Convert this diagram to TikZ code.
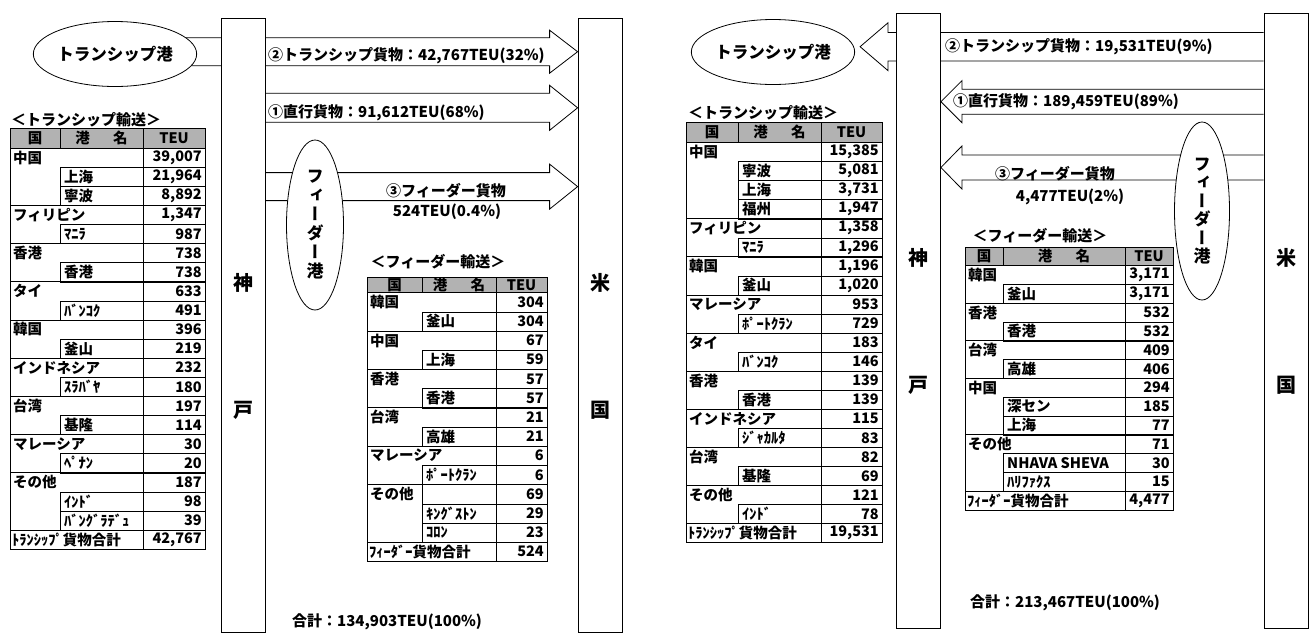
\documentclass[tikz,border=0pt]{standalone}
\usepackage{fontspec}
\setmainfont{Noto Sans CJK JP}
\newfontfamily\vjp{Noto Sans CJK JP}[RawFeature=+vert]
\usetikzlibrary{shapes.geometric,calc,backgrounds}

\tikzset{
  bar/.style = {draw, thick, fill=white, minimum width=44pt, inner sep=0pt},
  port/.style = {draw, thick, ellipse, fill=white, inner sep=0pt, font=\fontsize{16.5}{18}\selectfont\bfseries},
  flow/.style = {draw, thick, fill=white},
  side/.style = {font=\fontsize{20}{22}\selectfont\bfseries},
  lbl/.style = {inner sep=0pt, font=\fontsize{15}{17}\selectfont\bfseries},
  ttl/.style = {inner sep=0pt, font=\fontsize{15}{16}\selectfont\bfseries},
  cell/.style = {inner sep=0pt, font=\fontsize{14.5}{15}\selectfont\bfseries},
  headfill/.style = {fill=black!30},
}

% block arrow: tail node, tip node, centre y, shaft half, head half, head offset
\newcommand{\blockarrow}[6]{%
  \draw[flow] (#1 |- 0,#3-#4) -- ($(#2 |- 0,#3-#4)+(#6,0)$)
    -- ($(#2 |- 0,#3-#5)+(#6,0)$) -- (#2 |- 0,#3)
    -- ($(#2 |- 0,#3+#5)+(#6,0)$) -- ($(#2 |- 0,#3+#4)+(#6,0)$)
    -- (#1 |- 0,#3+#4);}

% table: name, rows, country rows, port rows, total text, total value
\newcommand{\teutable}[6]{%
  \fill[headfill] (0,0) rectangle (\cw,\hh);
  \node[cell] (#1-h1) at ({\ca/2},{\hh/2}) {国};
  \node[cell] (#1-h2) at ({(\ca+\cb)/2},{\hh/2}) {港\hspace{1.6em}名};
  \node[cell] (#1-h3) at ({(\cb+\cw)/2},{\hh/2}) {TEU};
  \draw (\ca,0) -- (\ca,\hh) (0,\hh) -- (\cw,\hh);
  \draw (\cb,0) -- (\cb,{\hh+#2*\rh});
  \foreach \i/\nm/\val in {#3} {
    \draw[thick] (0,{\hh+(\i-1)*\rh}) -- (\cw,{\hh+(\i-1)*\rh});
    \draw (\cb,{\hh+\i*\rh}) -- (\cw,{\hh+\i*\rh});
    \node[cell, anchor=west] (#1-n\i) at (3,{\hh+(\i-0.5)*\rh}) {\nm};
    \node[cell, anchor=east] (#1-v\i) at ({\cw-3},{\hh+(\i-0.5)*\rh}) {\val};
  }
  \foreach \i/\nm/\val in {#4} {
    \draw (\ca,{\hh+(\i-1)*\rh}) rectangle (\cw,{\hh+\i*\rh});
    \node[cell, anchor=west] (#1-n\i) at ({\ca+4},{\hh+(\i-0.5)*\rh}) {\nm};
    \node[cell, anchor=east] (#1-v\i) at ({\cw-3},{\hh+(\i-0.5)*\rh}) {\val};
  }
  \draw[thick] (0,{\hh+(#2-1)*\rh}) -- (\cw,{\hh+(#2-1)*\rh});
  \node[cell, anchor=west] (#1-n#2) at (2,{\hh+(#2-0.5)*\rh}) {#5};
  \node[cell, anchor=east] (#1-v#2) at ({\cw-3},{\hh+(#2-0.5)*\rh}) {#6};
  \draw[thick] (0,0) rectangle (\cw,{\hh+#2*\rh});
}

\begin{document}
\begin{tikzpicture}[x=1pt, y=-1pt]
\useasboundingbox (0,0) rectangle (1316,633);

% ---------------- left: export ----------------
\node[bar, minimum height=614pt] (kobeL) at (243,325) {};
\node[bar, minimum height=614pt] (usL) at (600,325) {};
\node[side] (kobeL-1) at (243,283) {神};
\node[side] (kobeL-2) at (243,410) {戸};
\node[side] (usL-1) at (600,283) {米};
\node[side] (usL-2) at (600,410) {国};

\node[port, minimum width=124pt, minimum height=65pt] (tsL) at (115,54) {トランシップ港};
\node[port, minimum width=57pt, minimum height=170pt, align=center,
  font=\vjp\fontsize{17}{19}\selectfont\bfseries] (fdL) at (315,225) {フ\\ィ\\ー\\ダ\\ー\\港};

\begin{scope}[on background layer]
  \blockarrow{tsL.center}{usL.west}{51.7}{14}{21.5}{-28}
  \blockarrow{kobeL.east}{usL.west}{107.8}{14.5}{22.5}{-28}
  \blockarrow{kobeL.east}{usL.west}{186.6}{14}{22.5}{-28}
\end{scope}

\node[lbl, anchor=west] (lblL2) at (268,56) {②トランシップ貨物：42,767TEU(32\%)};
\node[lbl, anchor=west] (lblL1) at (268,113) {①直行貨物：91,612TEU(68\%)};
\node[lbl] (lblL3) at (446,191) {③フィーダー貨物};
\node[lbl] (lblL3b) at (447,212) {524TEU(0.4\%)};
\node[lbl, anchor=west] (sumL) at (292,622) {合計：134,903TEU(100\%)};

\node[ttl] (ltT) at (86,120) {＜トランシップ輸送＞};
\begin{scope}[shift={(10,128)}]
  \def\cw{195}\def\ca{50}\def\cb{133}\def\hh{20}\def\rh{19.1}
  \teutable{lt}{21}
    {1/中国/{39,007}, 4/フィリピン/{1,347}, 6/香港/738, 8/タイ/633, 10/韓国/396,
     12/インドネシア/232, 14/台湾/197, 16/マレーシア/30, 18/その他/187}
    {2/上海/{21,964}, 3/寧波/{8,892}, 5/ﾏﾆﾗ/987, 7/香港/738, 9/ﾊﾞﾝｺｸ/491, 11/釜山/219,
     13/ｽﾗﾊﾞﾔ/180, 15/基隆/114, 17/ﾍﾟﾅﾝ/20, 19/ｲﾝﾄﾞ/98, 20/ﾊﾞﾝｸﾞﾗﾃﾞｭ/39}
    {ﾄﾗﾝｼｯﾌﾟ貨物合計}{42,767}
\end{scope}

\node[ttl] (lfT) at (438,262) {＜フィーダー輸送＞};
\begin{scope}[shift={(367,277)}]
  \def\cw{180}\def\ca{55}\def\cb{129}\def\hh{15.5}\def\rh{19.2}
  \teutable{lf}{14}
    {1/韓国/304, 3/中国/67, 5/香港/57, 7/台湾/21, 9/マレーシア/6, 11/その他/69}
    {2/釜山/304, 4/上海/59, 6/香港/57, 8/高雄/21, 10/ﾎﾟｰﾄｸﾗﾝ/6, 12/ｷﾝｸﾞｽﾄﾝ/29, 13/ｺﾛﾝ/23}
    {ﾌｨｰﾀﾞｰ貨物合計}{524}
  \draw (\ca,{\hh+10*\rh}) rectangle (\cb,{\hh+11*\rh});
\end{scope}

% ---------------- right: import ----------------
\node[bar, minimum height=615pt] (kobeR) at (918.5,320.5) {};
\node[bar, minimum height=615pt] (usR) at (1286,320.5) {};
\node[side] (kobeR-1) at (918.5,258) {神};
\node[side] (kobeR-2) at (918.5,385) {戸};
\node[side] (usR-1) at (1286,258) {米};
\node[side] (usR-2) at (1286,385) {国};

\node[port, minimum width=123pt, minimum height=65pt] (tsR) at (773,52) {トランシップ港};
\coordinate (tsR-tip) at ([xshift=5pt]tsR.east);
\node[port, minimum width=55pt, minimum height=178pt, align=center,
  font=\vjp\fontsize{17}{18.5}\selectfont\bfseries] (fdR) at (1202,211) {フ\\ィ\\ー\\ダ\\ー\\港};

\begin{scope}[on background layer]
  \blockarrow{usR.west}{tsR-tip}{46.7}{14.3}{24}{28}
  \blockarrow{usR.west}{kobeR.east}{101.7}{12.5}{21}{21}
  \blockarrow{usR.west}{kobeR.east}{167.5}{12.5}{21.5}{21}
\end{scope}

\node[lbl, anchor=west] (lblR2) at (945,47) {②トランシップ貨物：19,531TEU(9\%)};
\node[lbl, anchor=west] (lblR1) at (953,102) {①直行貨物：189,459TEU(89\%)};
\node[lbl] (lblR3) at (1055,174) {③フィーダー貨物};
\node[lbl] (lblR3b) at (1070,197) {4,477TEU(2\%)};
\node[lbl, anchor=west] (sumR) at (970,603) {合計：213,467TEU(100\%)};

\node[ttl] (rtT) at (763,113) {＜トランシップ輸送＞};
\begin{scope}[shift={(686,122)}]
  \def\cw{196}\def\ca{52}\def\cb{135}\def\hh{20.5}\def\rh{19.05}
  \teutable{rt}{21}
    {1/中国/{15,385}, 5/フィリピン/{1,358}, 7/韓国/{1,196}, 9/マレーシア/953, 11/タイ/183,
     13/香港/139, 15/インドネシア/115, 17/台湾/82, 19/その他/121}
    {2/寧波/{5,081}, 3/上海/{3,731}, 4/福州/{1,947}, 6/ﾏﾆﾗ/{1,296}, 8/釜山/{1,020},
     10/ﾎﾟｰﾄｸﾗﾝ/729, 12/ﾊﾞﾝｺｸ/146, 14/香港/139, 16/ｼﾞｬｶﾙﾀ/83, 18/基隆/69, 20/ｲﾝﾄﾞ/78}
    {ﾄﾗﾝｼｯﾌﾟ貨物合計}{19,531}
\end{scope}

\node[ttl] (rfT) at (1040,236) {＜フィーダー輸送＞};
\begin{scope}[shift={(965,247)}]
  \def\cw{208}\def\ca{38}\def\cb{160}\def\hh{18.5}\def\rh{18.8}
  \teutable{rf}{13}
    {1/韓国/{3,171}, 3/香港/532, 5/台湾/409, 7/中国/294, 10/その他/71}
    {2/釜山/{3,171}, 4/香港/532, 6/高雄/406, 8/深セン/185, 9/上海/77,
     11/NHAVA SHEVA/30, 12/ﾊﾘﾌｧｸｽ/15}
    {ﾌｨｰﾀﾞｰ貨物合計}{4,477}
\end{scope}
\end{tikzpicture}
\end{document}
